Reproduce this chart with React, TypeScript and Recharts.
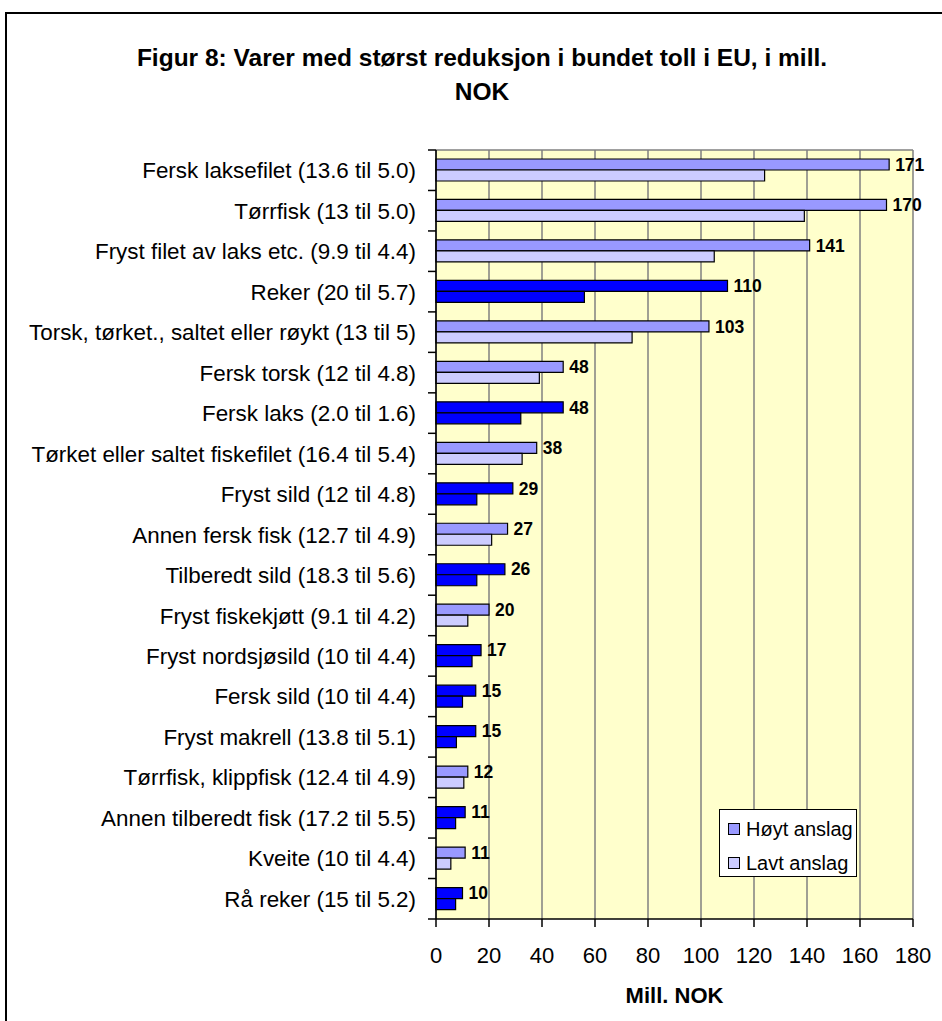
import React from "react";
import { BarChart, Bar, XAxis, YAxis, CartesianGrid, Cell, LabelList } from "recharts";

const categories = [
  "Fersk laksefilet (13.6 til 5.0)",
  "Tørrfisk (13 til 5.0)",
  "Fryst filet av laks etc. (9.9 til 4.4)",
  "Reker (20 til 5.7)",
  "Torsk, tørket., saltet eller røykt (13 til 5)",
  "Fersk torsk (12 til 4.8)",
  "Fersk laks (2.0 til 1.6)",
  "Tørket eller saltet fiskefilet (16.4 til 5.4)",
  "Fryst sild (12 til 4.8)",
  "Annen fersk fisk (12.7 til 4.9)",
  "Tilberedt sild (18.3 til 5.6)",
  "Fryst fiskekjøtt (9.1 til 4.2)",
  "Fryst nordsjøsild (10 til 4.4)",
  "Fersk sild (10 til 4.4)",
  "Fryst makrell (13.8 til 5.1)",
  "Tørrfisk, klippfisk (12.4 til 4.9)",
  "Annen tilberedt fisk (17.2 til 5.5)",
  "Kveite (10 til 4.4)",
  "Rå reker (15 til 5.2)",
];

const highEstimate = [171, 170, 141, 110, 103, 48, 48, 38, 29, 27, 26, 20, 17, 15, 15, 12, 11, 11, 10];
const lowEstimate = [124, 139, 105, 56, 74, 39, 32, 32.5, 15.4, 21, 15.4, 12, 13.6, 10, 7.7, 10.5, 7.4, 5.6, 7.4];

const darkBlueItems = [
  "Reker (20 til 5.7)",
  "Fersk laks (2.0 til 1.6)",
  "Fryst sild (12 til 4.8)",
  "Tilberedt sild (18.3 til 5.6)",
  "Fryst nordsjøsild (10 til 4.4)",
  "Fersk sild (10 til 4.4)",
  "Fryst makrell (13.8 til 5.1)",
  "Annen tilberedt fisk (17.2 til 5.5)",
  "Rå reker (15 til 5.2)",
];

const xTicks = [0, 20, 40, 60, 80, 100, 120, 140, 160, 180];

const seriesNames = { high: "Høyt anslag", low: "Lavt anslag" };

const data = categories.map((name, i) => ({ name, high: highEstimate[i], low: lowEstimate[i] }));

const FONT = "'Liberation Sans', Arial, sans-serif";
const HIGH_COLOR = "#9999FF";
const LOW_COLOR = "#CCCCFF";
const DARK_COLOR = "#0000FF";
const Y_TICK = 8;
const Y_TICK_MARGIN = 12;

const CategoryTick = (props: any) => {
  const { x, y, payload, index, visibleTicksCount } = props;
  const half = payload && typeof payload.offset === "number" ? payload.offset : 0;
  const axisX = x + Y_TICK + Y_TICK_MARGIN;
  const isLast = index === (visibleTicksCount ?? categories.length) - 1;
  return (
    <g>
      <line x1={axisX - Y_TICK} x2={axisX} y1={y - half} y2={y - half} stroke="#000" strokeWidth={1.5} />
      {isLast && (
        <line x1={axisX - Y_TICK} x2={axisX} y1={y + half} y2={y + half} stroke="#000" strokeWidth={1.5} />
      )}
      <text x={x} y={y} dy="0.36em" textAnchor="end" fontSize={22.4} fontFamily={FONT} fill="#000">
        {payload.value}
      </text>
    </g>
  );
};

const LegendBox = () => (
  <div
    style={{
      position: "absolute",
      left: 719,
      top: 809,
      boxSizing: "border-box",
      width: 138,
      height: 68,
      border: "1px solid #000",
      background: "#fff",
      fontFamily: FONT,
      fontSize: 20,
      color: "#000",
    }}
  >
    {[
      { label: seriesNames.high, color: HIGH_COLOR, top: 8 },
      { label: seriesNames.low, color: LOW_COLOR, top: 42 },
    ].map((it) => (
      <div key={it.label} style={{ position: "absolute", left: 8, top: it.top, height: 22, display: "flex", alignItems: "center" }}>
        <span
          style={{
            display: "inline-block",
            boxSizing: "border-box",
            width: 12,
            height: 12,
            background: it.color,
            border: "1px solid #000",
            marginRight: 6,
          }}
        />
        <span style={{ lineHeight: "22px", whiteSpace: "nowrap" }}>{it.label}</span>
      </div>
    ))}
  </div>
);

export default function App() {
  return (
    <div style={{ position: "absolute", left: 0, top: 0, width: 942, height: 1021, background: "#fff", overflow: "hidden" }}>
      <svg width={942} height={1021} style={{ position: "absolute", left: 0, top: 0 }}>
        <rect x={6} y={13} width={1000} height={1100} fill="none" stroke="#000" strokeWidth={2} />
        <text x={482} y={66} textAnchor="middle" fontSize={24.5} fontWeight="bold" fontFamily={FONT} fill="#000">
          Figur 8: Varer med størst reduksjon i bundet toll i EU, i mill.
        </text>
        <text x={482} y={100} textAnchor="middle" fontSize={24.5} fontWeight="bold" fontFamily={FONT} fill="#000">
          NOK
        </text>
      </svg>
      <div style={{ position: "absolute", left: 0, top: 0 }}>
        <BarChart
          width={942}
          height={1021}
          data={data}
          layout="vertical"
          margin={{ top: 150, right: 29, bottom: 42, left: 0 }}
          barGap={0}
          barSize={11}
        >
          <CartesianGrid
            fill="#FFFFCC"
            stroke="#808080"
            strokeWidth={1.5}
            horizontal={true}
            vertical={true}
            horizontalCoordinatesGenerator={(p: any) => [p.offset.top]}
          />
          <XAxis
            type="number"
            domain={[0, 180]}
            ticks={xTicks}
            interval={0}
            tickSize={8}
            tickMargin={20}
            height={60}
            axisLine={{ stroke: "#000", strokeWidth: 1.5 }}
            tickLine={{ stroke: "#000", strokeWidth: 1.5 }}
            tick={{ fontSize: 22, fontFamily: FONT, fill: "#000" }}
            label={{
              value: "Mill. NOK",
              position: "bottom",
              offset: 8,
              style: { fontSize: 22, fontWeight: "bold", fontFamily: FONT, fill: "#000" },
            }}
          />
          <YAxis
            type="category"
            dataKey="name"
            width={436}
            interval={0}
            tickSize={Y_TICK}
            tickMargin={Y_TICK_MARGIN}
            tickLine={false}
            axisLine={{ stroke: "#000", strokeWidth: 1.5 }}
            tick={<CategoryTick />}
          />
          <Bar dataKey="high" name={seriesNames.high} fill={HIGH_COLOR} stroke="#000" strokeWidth={1.2} isAnimationActive={false}>
            {data.map((d) => (
              <Cell key={d.name} fill={darkBlueItems.includes(d.name) ? DARK_COLOR : HIGH_COLOR} />
            ))}
            <LabelList
              dataKey="high"
              position="right"
              offset={6}
              style={{ fontSize: 17.5, fontWeight: "bold", fontFamily: FONT, fill: "#000" }}
            />
          </Bar>
          <Bar dataKey="low" name={seriesNames.low} fill={LOW_COLOR} stroke="#000" strokeWidth={1.2} isAnimationActive={false}>
            {data.map((d) => (
              <Cell key={d.name} fill={darkBlueItems.includes(d.name) ? DARK_COLOR : LOW_COLOR} />
            ))}
          </Bar>
        </BarChart>
      </div>
      <LegendBox />
    </div>
  );
}
